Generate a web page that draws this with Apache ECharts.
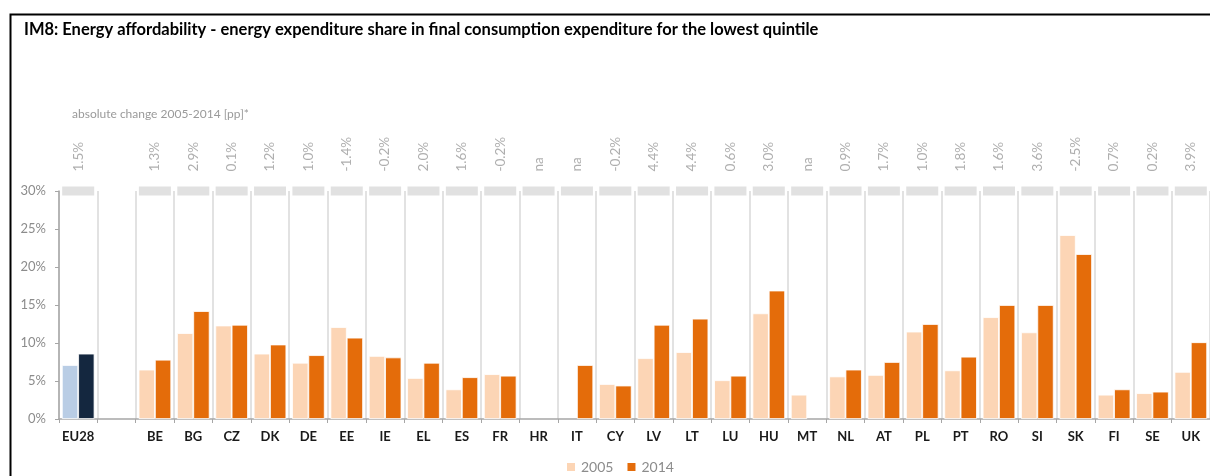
<!DOCTYPE html>
<html>
<head>
<meta charset="utf-8">
<script src="https://cdn.jsdelivr.net/npm/echarts@6/dist/echarts.min.js"></script>
<style>
  html, body { margin: 0; padding: 0; background: #fff; }
  #chart { width: 1210px; height: 476px; }
</style>
</head>
<body>
<div id="chart"></div>
<script>
// categories (second slot is the empty gap after EU28)
const categories = ['EU28', '', 'BE', 'BG', 'CZ', 'DK', 'DE', 'EE', 'IE', 'EL', 'ES', 'FR', 'HR', 'IT', 'CY',
  'LV', 'LT', 'LU', 'HU', 'MT', 'NL', 'AT', 'PL', 'PT', 'RO', 'SI', 'SK', 'FI', 'SE', 'UK'];

// energy expenditure share, %
const values2005 = [7.1, null, 6.5, 11.3, 12.3, 8.6, 7.4, 12.1, 8.3, 5.4, 3.9, 5.9, null, null, 4.6,
  8.0, 8.8, 5.1, 13.9, 3.2, 5.6, 5.8, 11.5, 6.4, 13.4, 11.4, 24.2, 3.2, 3.4, 6.2];
const values2014 = [8.6, null, 7.8, 14.2, 12.4, 9.8, 8.4, 10.7, 8.1, 7.4, 5.5, 5.7, null, 7.1, 4.4,
  12.4, 13.2, 5.7, 16.9, null, 6.5, 7.5, 12.5, 8.2, 15.0, 15.0, 21.7, 3.9, 3.6, 10.1];

// absolute change 2005-2014 labels
const changeLabels = ['1.5%', null, '1.3%', '2.9%', '0.1%', '1.2%', '1.0%', '-1.4%', '-0.2%', '2.0%', '1.6%', '-0.2%', 'na', 'na', '-0.2%',
  '4.4%', '4.4%', '0.6%', '3.0%', 'na', '0.9%', '1.7%', '1.0%', '1.8%', '1.6%', '3.6%', '-2.5%', '0.7%', '0.2%', '3.9%'];

const yTicks = [0, 5, 10, 15, 20, 25, 30];

const FONT = 'Lato';
const c2005 = '#fcd5b5';
const c2014 = '#e46c0a';
const eu2005 = '#b9cde5';
const eu2014 = '#14273f';

let myChart = echarts.init(document.getElementById('chart'));

const data2005 = values2005.map((v, i) => i === 0 ? { value: v, itemStyle: { color: eu2005 } } : v);
const data2014 = values2014.map((v, i) => i === 0 ? { value: v, itemStyle: { color: eu2014 } } : v);
const boxes = changeLabels.map(l => l === null ? '-' : yTicks[yTicks.length - 1]);

myChart.setOption({
  animation: false,
  textStyle: { fontFamily: FONT },
  title: {
    text: 'IM8: Energy affordability - energy expenditure share in final consumption expenditure for the lowest quintile',
    left: 19,
    top: 16,
    textStyle: { fontFamily: FONT, fontSize: 16.5, fontWeight: 'bold', color: '#000' }
  },
  graphic: [
    {
      type: 'rect',
      shape: { x: 10.5, y: 14.5, width: 1400, height: 600 },
      style: { fill: 'none', stroke: '#000', lineWidth: 2 },
      silent: true
    },
    {
      type: 'text',
      left: 72,
      top: 108,
      style: { text: 'absolute change 2005-2014 [pp]*', fill: '#9a9a9a', font: '12px Lato' },
      silent: true
    }
  ],
  legend: {
    data: ['2005', '2014'],
    left: 560,
    top: 455,
    icon: 'rect',
    itemWidth: 10,
    itemHeight: 10,
    itemGap: 12,
    textStyle: { fontFamily: FONT, fontSize: 14, color: '#8c8c8c' }
  },
  grid: { left: 59, right: 0, top: 191, bottom: 57, containLabel: false },
  xAxis: {
    type: 'category',
    data: categories,
    axisLine: { lineStyle: { color: '#a6a6a6', width: 1.5 } },
    axisTick: { show: true, length: 4, lineStyle: { color: '#a6a6a6' } },
    splitLine: { show: true, lineStyle: { color: '#d9d9d9', width: 1.5 } },
    axisLabel: { margin: 11, fontFamily: FONT, fontSize: 13, fontWeight: 'bold', color: '#1a1a1a', interval: 0 }
  },
  yAxis: {
    type: 'value',
    min: yTicks[0],
    max: yTicks[yTicks.length - 1],
    interval: 5,
    axisLine: { show: true, lineStyle: { color: '#a6a6a6', width: 1.5 } },
    axisTick: { show: true, length: 4, lineStyle: { color: '#a6a6a6' } },
    splitLine: { show: false },
    axisLabel: { margin: 13, fontFamily: FONT, fontSize: 13, color: '#8c8c8c', formatter: '{value}%' }
  },
  series: [
    {
      name: '2005',
      type: 'bar',
      data: data2005,
      color: c2005,
      barGap: '0%',
      barCategoryGap: '15%',
      itemStyle: { borderColor: '#fff', borderWidth: 0.8 },
      silent: true
    },
    {
      name: '2014',
      type: 'bar',
      data: data2014,
      color: c2014,
      itemStyle: { borderColor: '#fff', borderWidth: 0.8 },
      silent: true
    },
    {
      name: 'change',
      type: 'scatter',
      data: boxes,
      symbol: 'rect',
      symbolSize: [32, 9],
      itemStyle: { color: '#d9d9d9' },
      silent: true,
      z: 5,
      label: {
        show: true,
        position: 'top',
        distance: 15,
        rotate: 90,
        align: 'left',
        verticalAlign: 'middle',
        fontFamily: FONT,
        fontSize: 13.5,
        color: '#9a9a9a',
        formatter: p => changeLabels[p.dataIndex]
      }
    }
  ]
});
</script>
</body>
</html>
